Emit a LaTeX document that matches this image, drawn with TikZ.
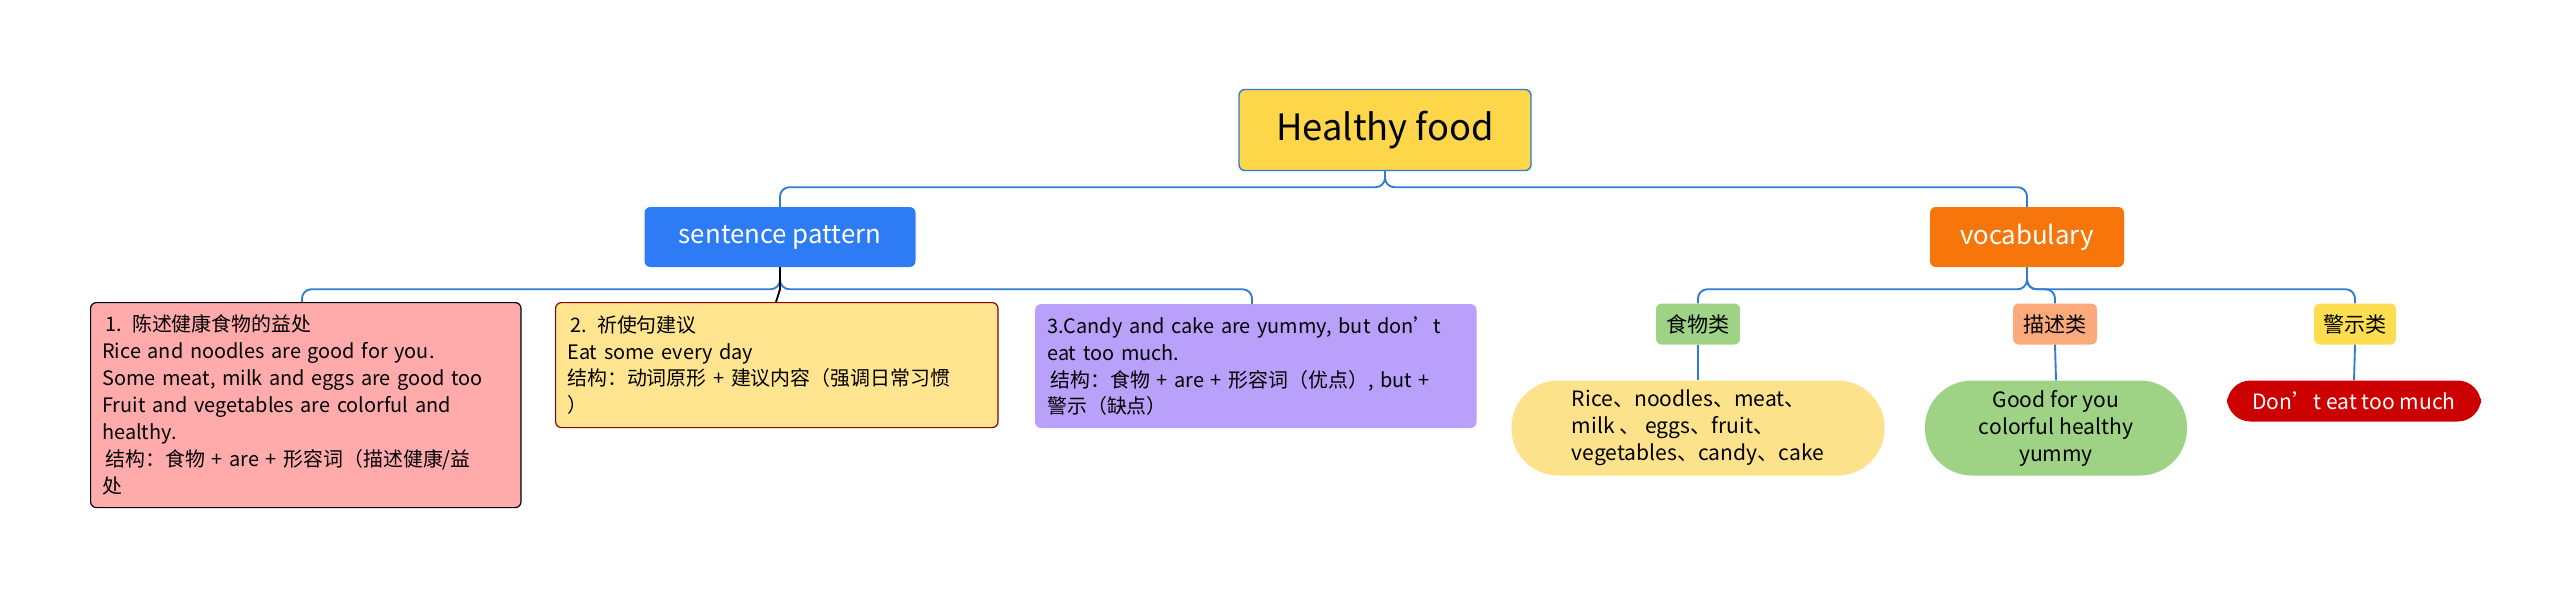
\documentclass[tikz,border=0pt]{standalone}
\usepackage{fontspec}
\setmainfont{Noto Sans CJK SC}
\begin{document}
\begin{tikzpicture}[x=0.3mm,y=-0.3mm,
  every node/.style={inner sep=0pt},
  conn/.style={draw=linkblue,line width=1.6pt,rounded corners=8pt},
  card/.style={rounded corners=5pt,line width=1pt,align=left,anchor=north west,inner xsep=10pt,inner ysep=7pt,font=\fontsize{17}{23}\selectfont},
  tag/.style={rounded corners=5pt,font=\fontsize{18}{22}\selectfont},
  leaf/.style={rounded corners=40pt,align=center,font=\fontsize{18}{23}\selectfont}]
\definecolor{linkblue}{HTML}{2F7BD6}
\useasboundingbox (0,0) rectangle (2560,594);
\fill[white] (0,0) rectangle (2560,594);
\node[draw=linkblue,line width=1.2pt,fill={rgb,255:red,253;green,214;blue,74},rounded corners=5pt,minimum width=292*0.3mm,minimum height=81*0.3mm,font=\fontsize{31}{36}\selectfont] (root) at (1385,130) {Healthy food};
\node[fill={rgb,255:red,45;green,124;blue,246},text=white,rounded corners=5pt,minimum width=271*0.3mm,minimum height=60*0.3mm,font=\fontsize{22}{26}\selectfont] (sp) at (780,237) {sentence pattern};
\node[fill={rgb,255:red,247;green,118;blue,11},text=white,rounded corners=5pt,minimum width=194*0.3mm,minimum height=60*0.3mm,font=\fontsize{22}{26}\selectfont] (vo) at (2027,237) {vocabulary};
\node[card,draw=black,fill={rgb,255:red,255;green,171;blue,171},text width=407*0.3mm,minimum height=205*0.3mm] (b1) at (90,302) {\,1. 陈述健康食物的益处\\Rice and noodles are good for you.\\Some meat, milk and eggs are good too\\Fruit and vegetables are colorful and\\healthy.\\\,结构：食物 + are + 形容词（描述健康/益\\处};
\node[card,draw={rgb,255:red,139;green,0;blue,0},fill={rgb,255:red,255;green,229;blue,143},text width=419*0.3mm,minimum height=125*0.3mm] (b2) at (555,302) {\,2. 祈使句建议\\Eat some every day\\结构：动词原形 + 建议内容（强调日常习惯\\）};
\node[card,draw={rgb,255:red,185;green,160;blue,250},fill={rgb,255:red,185;green,160;blue,250},text width=417*0.3mm,minimum height=123*0.3mm] (b3) at (1035,304) {3.Candy and cake are yummy, but don't\\eat too much.\\\,结构：食物 + are + 形容词（优点）, but +\\警示（缺点）};
\node[tag,fill={rgb,255:red,158;green,211;blue,133},minimum width=84*0.3mm,minimum height=41*0.3mm] (t1) at (1698,324) {食物类};
\node[tag,fill={rgb,255:red,252;green,170;blue,123},minimum width=84*0.3mm,minimum height=41*0.3mm] (t2) at (2055,324) {描述类};
\node[tag,fill={rgb,255:red,253;green,222;blue,80},minimum width=82*0.3mm,minimum height=41*0.3mm] (t3) at (2355,324) {警示类};
\node[leaf,fill={rgb,255:red,253;green,226;blue,140},minimum width=373*0.3mm,minimum height=95*0.3mm] (l1) at (1698,428) {\begin{tabular}{@{}l@{}}Rice、noodles、meat、\\milk 、 eggs、fruit、\\vegetables、candy、cake\end{tabular}};
\node[leaf,fill={rgb,255:red,158;green,211;blue,133},minimum width=262*0.3mm,minimum height=95*0.3mm] (l2) at (2056,428) {Good for you\\colorful healthy\\yummy};
\node[leaf,rounded corners=20pt,fill={rgb,255:red,204;green,0;blue,0},text=white,minimum width=254*0.3mm,minimum height=41*0.3mm] (l3) at (2354,401) {Don't eat too much};
\draw[conn] (root.south) -- ++(0,16) -| (sp.north);
\draw[conn] (root.south) -- ++(0,16) -| (vo.north);
\draw[conn] (sp.south) -- ++(0,22) -| (302,302);
\draw[conn] (sp.south) -- ++(0,22) -| (1252,304);
\draw[line width=1.6pt] (sp.south) -- ++(0,22) -- (776,302);
\draw[conn] (vo.south) -- ++(0,22) -| (t1.north);
\draw[conn] (vo.south) -- ++(0,22) -| (t2.north);
\draw[conn] (vo.south) -- ++(0,22) -| (t3.north);
\draw[conn] (t1.south) -- (l1.north);
\draw[conn] (t2.south) -- (l2.north);
\draw[conn] (t3.south) -- (l3.north);
\end{tikzpicture}
\end{document}
